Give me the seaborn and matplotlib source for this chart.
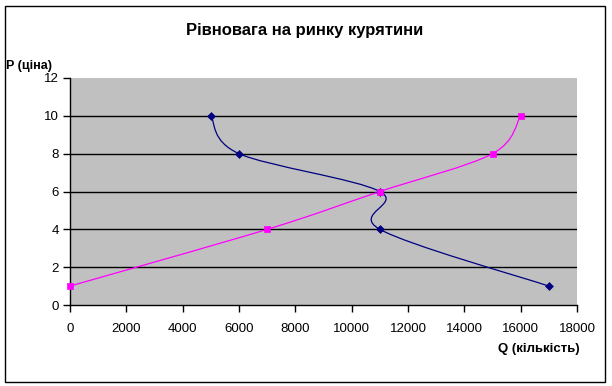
import matplotlib
matplotlib.use("Agg")
import matplotlib.pyplot as plt
import seaborn as sns
import numpy as np
import pandas as pd
from matplotlib.path import Path
from matplotlib.patches import PathPatch, Rectangle

# ---- data ----
demand_q = [5000, 6000, 11000, 11000, 17000]
demand_p = [10, 8, 6, 4, 1]
supply_q = [0, 7000, 11000, 15000, 16000]
supply_p = [1, 4, 6, 8, 10]
x_ticks = [0, 2000, 4000, 6000, 8000, 10000, 12000, 14000, 16000, 18000]
y_ticks = [0, 2, 4, 6, 8, 10, 12]
title = "Рівновага на ринку курятини"
ylabel = "P (ціна)"
xlabel = "Q (кількість)"

sns.set_theme(style="white")
plt.rcParams['font.family'] = ['Liberation Sans', 'DejaVu Sans']

fig = plt.figure(figsize=(6.12, 3.86), dpi=100)
ax = fig.add_axes([70/612, 81/386, 507/612, 227/386])
ax.set_facecolor("#C0C0C0")


def smooth_path(xs, ys):
    pts = np.column_stack([xs, ys]).astype(float)
    n = len(pts)
    verts = [pts[0]]
    codes = [Path.MOVETO]
    for i in range(n - 1):
        p0 = pts[i - 1] if i > 0 else pts[i]
        p1 = pts[i]
        p2 = pts[i + 1]
        p3 = pts[i + 2] if i + 2 < n else pts[i + 1]
        c1 = p1 + (p2 - p0) / 6.0
        c2 = p2 - (p3 - p1) / 6.0
        verts += [c1, c2, p2]
        codes += [Path.CURVE4] * 3
    return Path(verts, codes)


df_d = pd.DataFrame({"Q": demand_q, "P": demand_p})
df_s = pd.DataFrame({"Q": supply_q, "P": supply_p})

ax.add_patch(PathPatch(smooth_path(demand_q, demand_p), facecolor="none",
                       edgecolor="#000080", lw=0.9, zorder=3))
ax.add_patch(PathPatch(smooth_path(supply_q, supply_p), facecolor="none",
                       edgecolor="#FF00FF", lw=0.9, zorder=3))

sns.scatterplot(data=df_d, x="Q", y="P", marker="D", s=16, color="#000080",
                edgecolor="#000080", linewidth=0.5, ax=ax, zorder=4, clip_on=False)
sns.scatterplot(data=df_s, x="Q", y="P", marker="s", s=20, color="#FF00FF",
                edgecolor="#FF00FF", linewidth=0.5, ax=ax, zorder=4, clip_on=False)

ax.set_xlim(0, 18000)
ax.set_ylim(0, 12)
ax.set_xticks(x_ticks)
ax.set_yticks(y_ticks)
ax.set_xticklabels([str(v) for v in x_ticks], fontsize=9.5)
ax.set_yticklabels([str(v) for v in y_ticks], fontsize=9.5)
ax.set_xlabel("")
ax.set_ylabel("")

for v in y_ticks[1:-1]:
    ax.axhline(v, color="black", lw=1.0, zorder=1)

for s in ["top", "right"]:
    ax.spines[s].set_visible(False)
for s in ["left", "bottom"]:
    ax.spines[s].set_color("black")
    ax.spines[s].set_linewidth(1.0)

ax.tick_params(axis="both", which="major", direction="out", length=5,
               width=1.0, color="black", labelcolor="black", pad=8,
               bottom=True, left=True)
ax.tick_params(axis="y", pad=3)

fig.text(305/612, 1 - 31/386, title, ha="center", va="center",
         fontsize=12, fontweight="bold", color="black")
fig.text(6/612, 1 - 66/386, ylabel, ha="left", va="center",
         fontsize=9, fontweight="bold", color="black")
fig.text(580/612, 1 - 349/386, xlabel, ha="right", va="center",
         fontsize=9.5, fontweight="bold", color="black")

fig.patches.append(Rectangle((5/612, 1 - 382/386), 600/612, 376/386,
                             transform=fig.transFigure, fill=False,
                             edgecolor="black", lw=1.0))

fig.savefig("out.png", dpi=100)
